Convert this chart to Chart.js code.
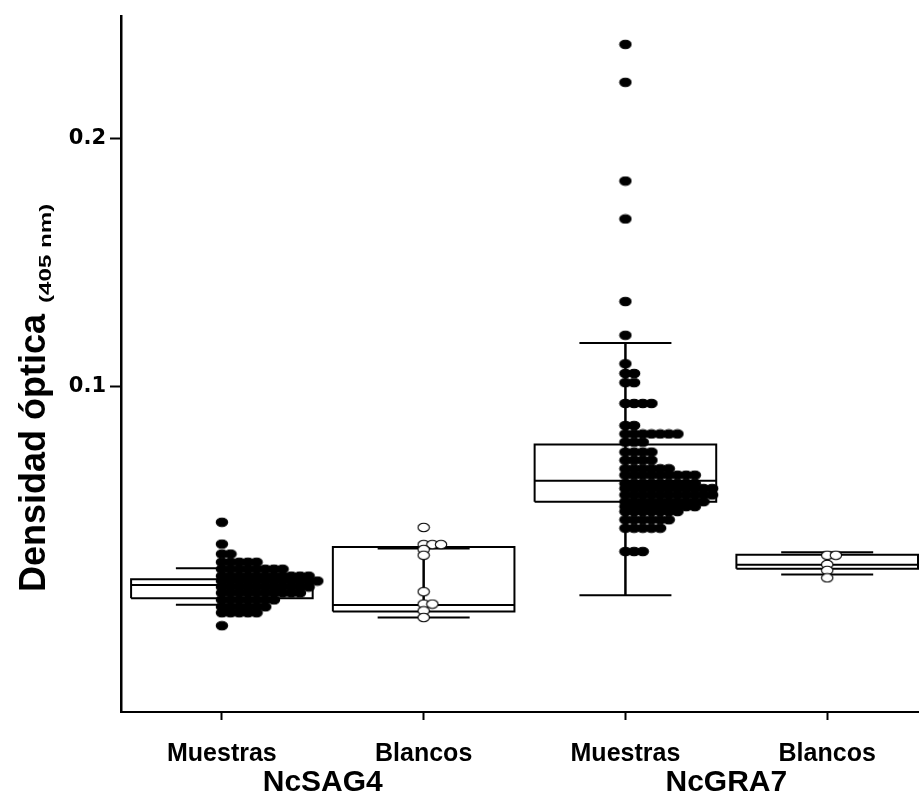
<!DOCTYPE html>
<html>
<head>
<meta charset="utf-8">
<script src="https://cdn.jsdelivr.net/npm/chart.js@4.4.0/dist/chart.umd.min.js"></script>
<style>
  html, body { margin: 0; padding: 0; background: #fff; overflow: hidden; }
  #wrap { position: absolute; left: 0; top: 0; width: 919px; height: 791px; }
</style>
</head>
<body>
<div id="wrap"><canvas id="chart"></canvas></div>
<script>
const categories = ['Muestras', 'Blancos', 'Muestras', 'Blancos'];
const groups = ['NcSAG4', 'NcGRA7'];
const yTicks = [0.1, 0.2];
const yTitle = 'Densidad óptica';
const ySub = '(405 nm)';

// dot rows (value of the row, number of dots in it)
const sag4MuestrasVals = [0.0453, 0.0365, 0.0325, 0.0292, 0.0264, 0.0236, 0.0216, 0.0192, 0.0168, 0.0140, 0.0112, 0.0088, 0.0036];
const sag4MuestrasCounts = [1, 1, 2, 5, 8, 11, 12, 11, 10, 7, 6, 5, 1];
const sag4BlancosVals = [0.0432, 0.0363, 0.0343, 0.0320, 0.0173, 0.0123, 0.0096, 0.0069];
const sag4BlancosCounts = [1, 3, 1, 1, 1, 2, 1, 1];
const gra7MuestrasVals = [0.2380, 0.2227, 0.1829, 0.1676, 0.1343, 0.1207, 0.1092, 0.1053, 0.1016, 0.0932, 0.0843, 0.0809, 0.0776, 0.0736, 0.0703, 0.0669, 0.0643, 0.0609, 0.0589, 0.0563, 0.0536, 0.0516, 0.0496, 0.0463, 0.0429, 0.0335];
const gra7MuestrasCounts = [1, 1, 1, 1, 1, 1, 1, 2, 2, 4, 2, 7, 3, 4, 4, 6, 9, 9, 11, 11, 10, 9, 7, 6, 5, 3];
const gra7BlancosVals = [0.0320, 0.0283, 0.0259, 0.0229];
const gra7BlancosCounts = [2, 1, 1, 1];

// box stats: lower whisker, q1, median, q3, upper whisker
const sag4MuestrasBox = [0.0120, 0.0147, 0.0200, 0.0223, 0.0268];
const sag4BlancosBox = [0.0069, 0.0093, 0.0119, 0.0353, 0.0347];
const gra7MuestrasBox = [0.0159, 0.0536, 0.0620, 0.0767, 0.1176];
const gra7BlancosBox = [0.0242, 0.0266, 0.0282, 0.0322, 0.0332];

const dotStep = 0.043;
const boxHalf = 0.45;
const capHalf = 0.228;

// oval markers, like the ones in the figure
function oval(fill) {
  const c = document.createElement('canvas');
  c.width = 14; c.height = 11;
  const g = c.getContext('2d');
  g.beginPath();
  g.ellipse(7, 5.5, 5.7, 4.2, 0, 0, Math.PI * 2);
  g.fillStyle = fill;
  g.fill();
  g.lineWidth = 1.1;
  g.strokeStyle = '#000';
  g.stroke();
  return c;
}
const blackDot = oval('#000');
const whiteDot = oval('#fff');

function dotPoints(cat, vals, counts) {
  const pts = [];
  vals.forEach(function (v, i) {
    for (let k = 0; k < counts[i]; k++) pts.push({ x: cat + k * dotStep, y: v });
  });
  return pts;
}

function boxPoints(cat, s) {
  const l = cat - boxHalf, r = cat + boxHalf;
  return [
    { x: l, y: s[1] }, { x: l, y: s[3] }, { x: r, y: s[3] }, { x: r, y: s[1] }, { x: l, y: s[1] }, { x: l, y: null },
    { x: l, y: s[2] }, { x: r, y: s[2] }, { x: r, y: null },
    { x: cat - capHalf, y: s[0] }, { x: cat + capHalf, y: s[0] }, { x: cat, y: null },
    { x: cat - capHalf, y: s[4] }, { x: cat + capHalf, y: s[4] }
  ];
}

function whiskerPoints(cat, s) {
  return [{ x: cat, y: s[0] }, { x: cat, y: s[4] }];
}

function lineSet(points, width) {
  return {
    data: points, showLine: true, spanGaps: false, borderColor: '#000', borderWidth: width,
    pointRadius: 0, pointHoverRadius: 0, fill: false, order: 2
  };
}

function dotSet(cat, vals, counts, hollow) {
  return {
    data: dotPoints(cat, vals, counts), showLine: false,
    pointStyle: hollow ? whiteDot : blackDot, pointRadius: 5, pointHoverRadius: 5, order: 1
  };
}

const font = '"Liberation Sans", Arial, sans-serif';

const titlePlugin = {
  id: 'yTitle',
  afterDraw(chart) {
    const ctx = chart.ctx;
    ctx.save();
    ctx.translate(45, 592);
    ctx.rotate(-Math.PI / 2);
    ctx.fillStyle = '#000';
    ctx.textBaseline = 'alphabetic';
    ctx.font = 'bold 36px ' + font;
    ctx.fillText(yTitle, 0, 0);
    const w = ctx.measureText(yTitle).width;
    ctx.translate(w + 11, 6);
    ctx.scale(1.42, 1);
    ctx.font = 'bold 17px ' + font;
    ctx.fillText(ySub, 0, 0);
    ctx.restore();
  }
};

new Chart(document.getElementById('chart'), {
  type: 'scatter',
  data: {
    datasets: [
      dotSet(0, sag4MuestrasVals, sag4MuestrasCounts, false),
      dotSet(1, sag4BlancosVals, sag4BlancosCounts, true),
      dotSet(2, gra7MuestrasVals, gra7MuestrasCounts, false),
      dotSet(3, gra7BlancosVals, gra7BlancosCounts, true),
      lineSet(boxPoints(0, sag4MuestrasBox), 2),
      lineSet(boxPoints(1, sag4BlancosBox), 2),
      lineSet(boxPoints(2, gra7MuestrasBox), 2),
      lineSet(boxPoints(3, gra7BlancosBox), 2),
      lineSet(whiskerPoints(0, sag4MuestrasBox), 2.5),
      lineSet(whiskerPoints(1, sag4BlancosBox), 2.5),
      lineSet(whiskerPoints(2, gra7MuestrasBox), 2.5),
      lineSet(whiskerPoints(3, gra7BlancosBox), 2.5)
    ]
  },
  options: {
    responsive: true,
    maintainAspectRatio: false,
    animation: false,
    layout: { autoPadding: false, padding: { top: 11, left: 0, right: 0, bottom: 0 } },
    plugins: { legend: { display: false }, tooltip: { enabled: false } },
    scales: {
      x: {
        type: 'linear', position: 'bottom', weight: 0,
        min: -0.5, max: 3.455,
        afterBuildTicks: function (scale) { scale.ticks = categories.map(function (c, i) { return { value: i }; }); },
        afterFit: function (scale) { scale.height = 52; },
        ticks: {
          callback: function (v) { return categories[v]; },
          color: '#000', font: { family: font, weight: 'bold', size: 25 }, padding: 19, maxRotation: 0
        },
        grid: { drawOnChartArea: false, drawTicks: true, tickLength: 8, tickColor: '#000', tickWidth: 2 },
        border: { display: true, color: '#000', width: 2 }
      },
      x2: {
        type: 'linear', position: 'bottom', weight: 1,
        min: -0.5, max: 3.455,
        afterBuildTicks: function (scale) { scale.ticks = groups.map(function (g, i) { return { value: 0.5 + 2 * i }; }); },
        afterFit: function (scale) { scale.height = 27; },
        ticks: {
          callback: function (v) { return groups[(v - 0.5) / 2]; },
          color: '#000', font: { family: font, weight: 'bold', size: 30 }, padding: 1, maxRotation: 0
        },
        grid: { display: false, drawTicks: false },
        border: { display: false }
      },
      y: {
        type: 'linear', min: -0.0312, max: 0.2492,
        afterBuildTicks: function (scale) { scale.ticks = yTicks.map(function (v) { return { value: v }; }); },
        afterFit: function (scale) { scale.width = 121; },
        ticks: {
          callback: function (v) { return String(v); },
          color: '#000', font: { family: '"DejaVu Sans", Verdana, sans-serif', weight: 'bold', size: 21 }, padding: 4
        },
        grid: { drawOnChartArea: false, drawTicks: true, tickLength: 11, tickColor: '#000', tickWidth: 2 },
        border: { display: true, color: '#000', width: 2.5 }
      }
    }
  },
  plugins: [titlePlugin]
});
</script>
</body>
</html>
